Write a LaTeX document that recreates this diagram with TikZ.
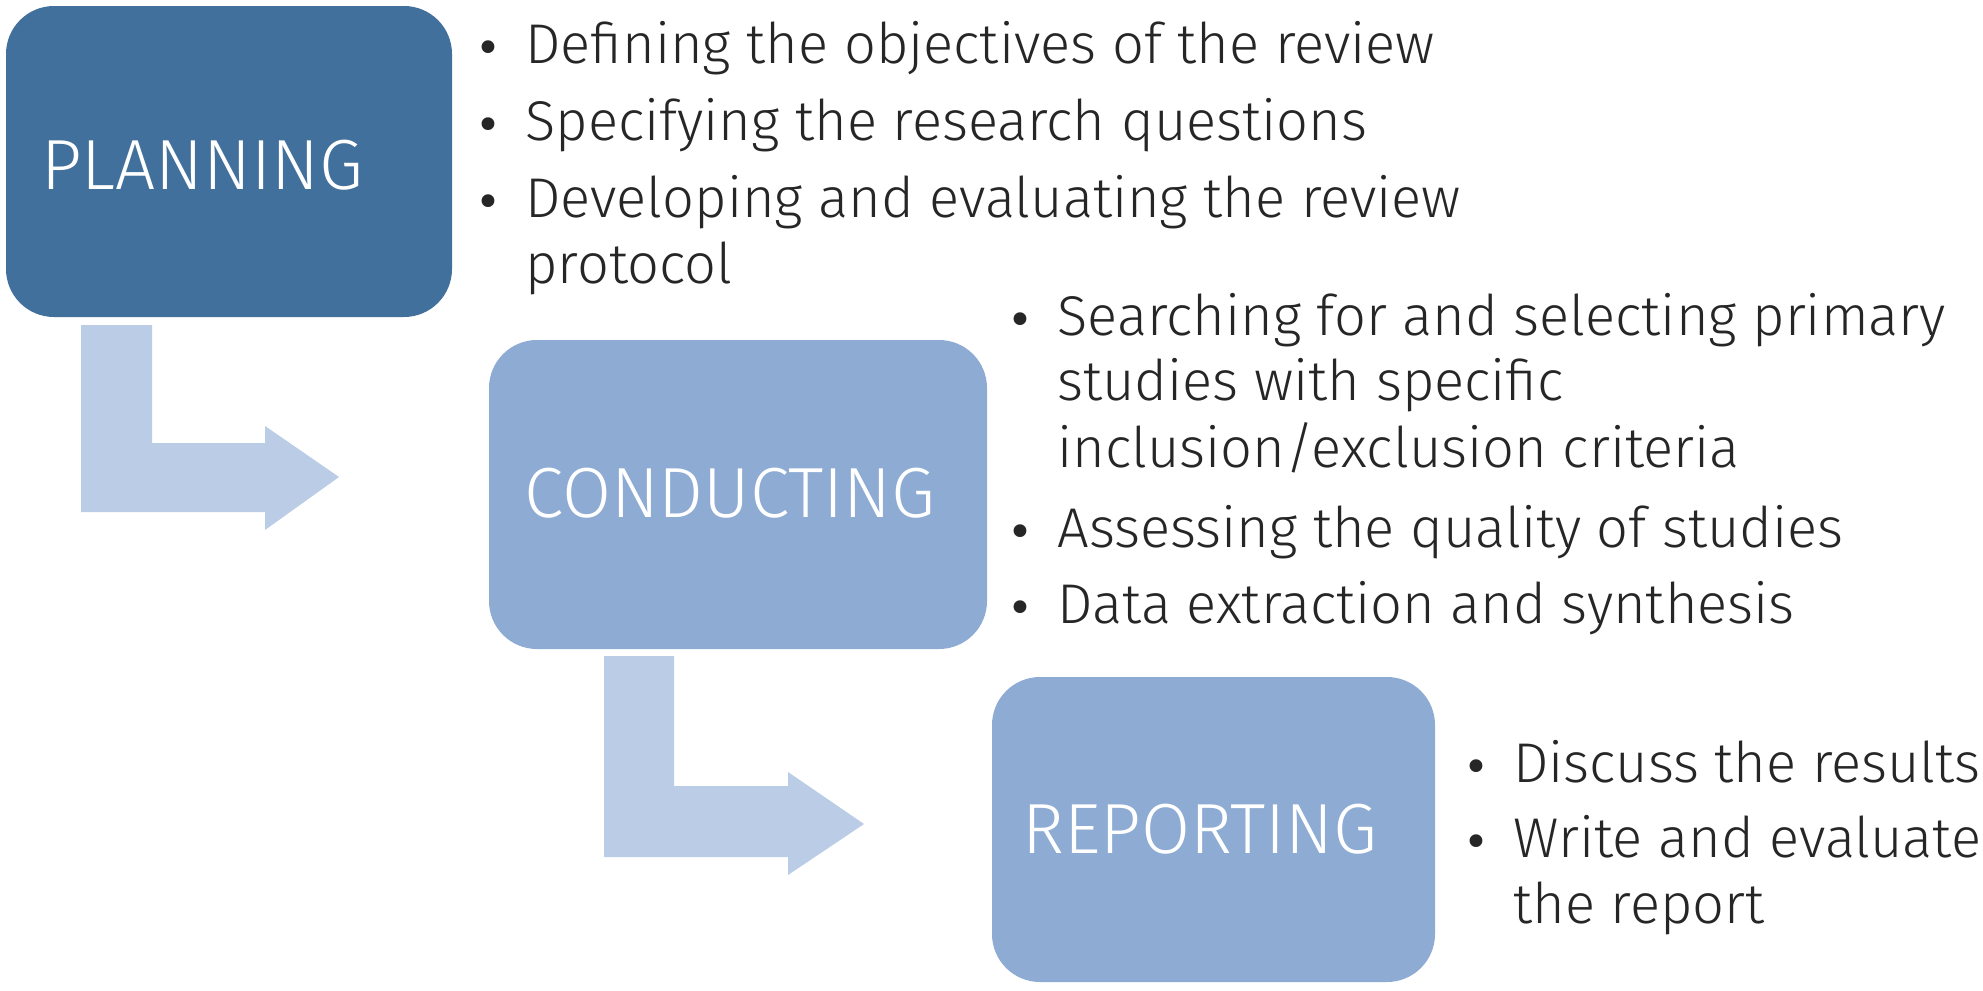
\documentclass[tikz,border=0pt]{standalone}
\usepackage{fontspec}
\IfFontExistsTF{FiraSans-Light.otf}
  {\setmainfont{FiraSans-Light.otf}}
  {\IfFontExistsTF{Fira Sans Light}
     {\setmainfont{Fira Sans Light}}
     {\setmainfont{Fira Sans}}}
\newfontfamily\bulletfont{DejaVu Sans}
\definecolor{planblue}{HTML}{42709C}
\definecolor{stepblue}{HTML}{8DABD3}
\definecolor{arrowblue}{HTML}{BACCE6}
\definecolor{ink}{HTML}{262626}
\newcommand{\bulmark}{\makebox[0pt][c]{\raisebox{0pt}{\bulletfont\fontsize{22}{24}\selectfont •}}\hspace{18.5pt}}
\begin{document}
\begin{tikzpicture}[x=0.5pt,y=-0.5pt,
  box/.style={rectangle, rounded corners=24pt, inner sep=0pt},
  boxlabel/.style={anchor=base west, inner sep=0pt, text=white, font=\fontsize{35.5}{42}\selectfont},
  item/.style={anchor=base west, inner sep=0pt, text=ink, font=\fontsize{28}{34}\selectfont},
  bendarrow/.style={fill=arrowblue}]
\useasboundingbox (0,0) rectangle (1983,991);
\fill[white] (0,0) rectangle (1983,991);

% connectors (bent block arrows)
\fill[bendarrow] (81,325) -- (152,325) -- (152,443) -- (265,443) -- (265,426)
  -- (339,477) -- (265,530) -- (265,512) -- (81,512) -- cycle;
\fill[bendarrow] (604,656) -- (674,656) -- (674,786) -- (788,786) -- (788,772)
  -- (864,824) -- (788,875) -- (788,857) -- (604,857) -- cycle;

% boxes
\node[box, fill=planblue, minimum width=223pt, minimum height=155.5pt] (plan) at (229,161.5) {};
\node[box, fill=stepblue, minimum width=249pt, minimum height=154.5pt] (cond) at (738,494.5) {};
\node[box, fill=stepblue, minimum width=221.5pt, minimum height=152.5pt] (rep) at (1213.5,829.5) {};

\node[boxlabel] (planL) at (41,189) {PLANNING};
\node[boxlabel] (condL) at (524,517) {CONDUCTING};
\node[boxlabel] (repL) at (1022,853) {REPORTING};

% planning items (bullet centred at x=488, text from x=525)
\node[item] (p1) at (488,63) {\bulmark Defining the objectives of the review};
\node[item] (p2) at (488,140) {\bulmark Specifying the research questions};
\node[item] (p3) at (488,217) {\bulmark Developing and evaluating the review};
\node[item] (p4) at (525,283) {protocol};

% conducting items
\node[item] (c1) at (1020,335) {\bulmark Searching for and selecting primary};
\node[item] (c2) at (1057,400) {studies with specific};
\node[item] (c3) at (1057,467) {inclusion/exclusion criteria};
\node[item] (c4) at (1020,547) {\bulmark Assessing the quality of studies};
\node[item] (c5) at (1020,623) {\bulmark Data extraction and synthesis};

% reporting items
\node[item] (r1) at (1476,782) {\bulmark Discuss the results};
\node[item] (r2) at (1476,857) {\bulmark Write and evaluate};
\node[item] (r3) at (1513,923) {the report};
\end{tikzpicture}
\end{document}
